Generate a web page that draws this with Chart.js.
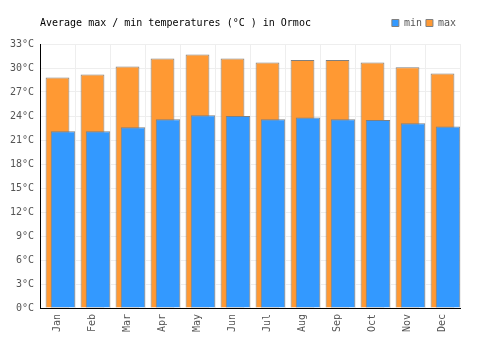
<!DOCTYPE html>
<html>
<head>
<meta charset="utf-8">
<script src="https://cdn.jsdelivr.net/npm/chart.js"></script>
<style>
  html, body { margin: 0; padding: 0; background: #fff; }
  #wrap { width: 500px; height: 350px; }
</style>
</head>
<body>
<div id="wrap"><canvas id="tempChart" width="500" height="350"></canvas></div>
<script>
// data
const months = ['Jan', 'Feb', 'Mar', 'Apr', 'May', 'Jun', 'Jul', 'Aug', 'Sep', 'Oct', 'Nov', 'Dec'];
const minTemps = [22.1, 22.1, 22.6, 23.6, 24.1, 24.0, 23.6, 23.8, 23.6, 23.5, 23.1, 22.7];
const maxTemps = [28.8, 29.2, 30.2, 31.2, 31.7, 31.2, 30.7, 31.0, 31.0, 30.7, 30.1, 29.3];
const yTicks = [0, 3, 6, 9, 12, 15, 18, 21, 24, 27, 30, 33];
const titleText = 'Average max / min temperatures (°C ) in Ormoc';

const monoFont = 'DejaVu Sans Mono';
const shift = 0.157; // min bars sit a bit to the right of the max bars

// title drawn on the same row as the legend
const titlePlugin = {
    id: 'rowTitle',
    afterDraw(chart) {
        const ctx = chart.ctx;
        ctx.save();
        ctx.font = '10px "' + monoFont + '"';
        ctx.fillStyle = '#000';
        ctx.textBaseline = 'middle';
        ctx.textAlign = 'left';
        ctx.fillText(titleText, chart.chartArea.left, 23);
        ctx.restore();
    }
};

new Chart(document.getElementById('tempChart').getContext('2d'), {
    type: 'bar',
    data: {
        labels: months,
        datasets: [
            {
                label: 'min',
                data: minTemps.map((v, i) => ({ x: i, y: v })),
                xAxisID: 'x2',
                backgroundColor: '#3399ff',
                borderColor: '#808080',
                borderWidth: 1,
                grouped: false,
                barPercentage: 0.7,
                categoryPercentage: 1
            },
            {
                label: 'max',
                data: maxTemps,
                xAxisID: 'x',
                backgroundColor: '#ff9933',
                borderColor: '#808080',
                borderWidth: 1,
                grouped: false,
                barPercentage: 0.68,
                categoryPercentage: 1
            }
        ]
    },
    options: {
        responsive: false,
        animation: false,
        layout: { padding: { top: 14, right: 40, left: 0, bottom: 0 } },
        plugins: {
            legend: {
                position: 'top',
                align: 'end',
                labels: {
                    font: { family: monoFont, size: 10 },
                    color: '#555',
                    boxWidth: 7,
                    boxHeight: 7,
                    padding: 4
                }
            },
            tooltip: { enabled: false },
            title: { display: false }
        },
        scales: {
            x: {
                type: 'category',
                offset: true,
                grid: { offset: true, color: '#eeeeee', drawTicks: false },
                border: { color: '#000', width: 1 },
                ticks: {
                    font: { family: monoFont, size: 10 },
                    color: '#555',
                    minRotation: 90,
                    maxRotation: 90,
                    padding: 6
                },
                afterFit: (scale) => { scale.height = 42; }
            },
            // hidden helper axis for the min bars; it also keeps a little gap under the legend
            x2: {
                type: 'linear',
                position: 'top',
                offset: false,
                min: -0.5 - shift,
                max: months.length - 0.5 - shift,
                grid: { display: false },
                border: { display: false },
                ticks: { display: false },
                afterFit: (scale) => { scale.height = 6; }
            },
            y: {
                min: 0,
                max: 33,
                afterBuildTicks: (scale) => { scale.ticks = yTicks.map(v => ({ value: v })); },
                grid: { color: '#eeeeee', drawTicks: false },
                border: { color: '#000', width: 1 },
                ticks: {
                    font: { family: monoFont, size: 10 },
                    color: '#555',
                    padding: 6,
                    callback: (v) => v + '°C'
                },
                afterFit: (scale) => { scale.width = 40; }
            }
        }
    },
    plugins: [titlePlugin]
});
</script>
</body>
</html>
